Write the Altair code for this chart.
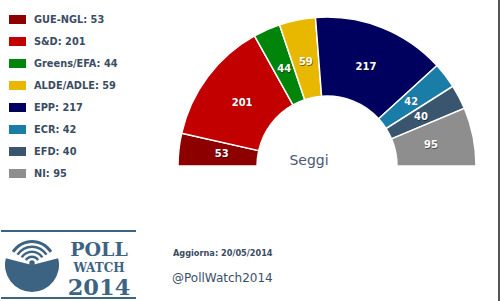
import math
import altair as alt
import pandas as pd

parties = ["GUE-NGL", "S&D", "Greens/EFA", "ALDE/ADLE", "EPP", "ECR", "EFD", "NI"]
seats = [53, 201, 44, 59, 217, 42, 40, 95]
colors = ["#8C0000", "#C20000", "#00840A", "#E8B800", "#00005E", "#1A7DA8", "#3A556E", "#8E8E8E"]

labels = [f"{p}: {s}" for p, s in zip(parties, seats)]
df = pd.DataFrame({"party": parties, "seats": seats, "label": labels, "idx": list(range(len(parties)))})

W, H = 500, 301
CX, CY = 326, 166
R_OUT, R_IN = 149, 70
LOGO = "#3D6382"
TXT = "#3A4C62"

theta = alt.Theta("seats:Q", stack=True, scale=alt.Scale(range=[-math.pi / 2, math.pi / 2]))
order = alt.Order("idx:Q", sort="ascending")

arcs = alt.Chart(df).mark_arc(stroke="white", strokeWidth=1.5).encode(
    theta=theta,
    order=order,
    x=alt.value(CX), y=alt.value(CY),
    radius=alt.value(R_OUT), radius2=alt.value(R_IN),
    color=alt.Color(
        "label:N",
        scale=alt.Scale(domain=labels, range=colors),
        legend=alt.Legend(
            orient="none", legendX=8, legendY=11, title=None,
            symbolType="M-1,-0.53H1V0.53H-1Z", symbolSize=289,
            symbolStrokeWidth=0, symbolOpacity=1,
            labelFont="DejaVu Sans", labelFontWeight="bold", labelFontSize=9.8,
            labelColor=TXT, labelOffset=8, rowPadding=8, labelLimit=200,
        ),
    ),
)

shadow = alt.Chart(df).mark_text(
    radius=106, font="DejaVu Sans", fontWeight="bold", fontSize=10, color="#000000",
    opacity=0.45, dx=0.7, dy=0.7,
).encode(theta=theta, order=order, x=alt.value(CX), y=alt.value(CY), text="seats:Q")

seg_labels = alt.Chart(df).mark_text(
    radius=106, font="DejaVu Sans", fontWeight="bold", fontSize=10, color="white",
).encode(theta=theta, order=order, x=alt.value(CX), y=alt.value(CY), text="seats:Q")

one = pd.DataFrame({"k": [0]})

seggi = alt.Chart(one).mark_text(
    text="Seggi", font="DejaVu Sans", fontSize=14, color="#4A5A72", align="center", baseline="alphabetic"
).encode(x=alt.value(308), y=alt.value(165))

aggiorna = alt.Chart(one).mark_text(
    text="Aggiorna: 20/05/2014", font="DejaVu Sans", fontWeight="bold", fontSize=8.2, color=TXT,
    align="left", baseline="middle"
).encode(x=alt.value(172), y=alt.value(254))

handle = alt.Chart(one).mark_text(
    text="@PollWatch2014", font="DejaVu Sans", fontSize=12, color="#3A5068",
    align="left", baseline="middle"
).encode(x=alt.value(171), y=alt.value(278))

right_bar = alt.Chart(one).mark_rect(color="#555555").encode(
    x=alt.value(497), x2=alt.value(500), y=alt.value(0), y2=alt.value(H)
)

# logo
logo_lines = alt.Chart(pd.DataFrame({"yy": [231, 298]})).mark_rule(color=LOGO, strokeWidth=2).encode(
    x=alt.value(0), x2=alt.value(135), y=alt.Y("yy:Q", scale=None)
)
bowl = alt.Chart(one).mark_arc(color=LOGO).encode(
    x=alt.value(31), y=alt.value(265), radius=alt.value(27),
    theta=alt.value(math.pi / 2 - 0.25), theta2=alt.value(3 * math.pi / 2 + 0.25),
)
wifi_df = pd.DataFrame({"r1": [6, 11, 16, 21], "r2": [8.5, 13.5, 18.5, 24]})
wifi = alt.Chart(wifi_df).mark_arc(color=LOGO).encode(
    x=alt.value(31), y=alt.value(264),
    radius=alt.Radius("r1:Q", scale=None), radius2=alt.Radius2("r2:Q"),
    theta=alt.value(-1.0), theta2=alt.value(1.0),
)
dot = alt.Chart(one).mark_circle(color=LOGO, opacity=1, size=30).encode(x=alt.value(31), y=alt.value(263))

poll = alt.Chart(one).mark_text(
    text="POLL", font="DejaVu Serif", fontWeight="bold", fontSize=19, color=LOGO, align="center", baseline="alphabetic"
).encode(x=alt.value(98), y=alt.value(256))
watch = alt.Chart(one).mark_text(
    text="WATCH", font="DejaVu Serif", fontWeight="bold", fontSize=12, color=LOGO, align="center", baseline="alphabetic"
).encode(x=alt.value(98), y=alt.value(272))
year = alt.Chart(one).mark_text(
    text="2014", font="DejaVu Serif", fontWeight="bold", fontSize=22.5, color=LOGO, align="center", baseline="alphabetic"
).encode(x=alt.value(98), y=alt.value(295))

chart = alt.layer(
    arcs, shadow, seg_labels, seggi, aggiorna, handle, right_bar,
    logo_lines, bowl, wifi, dot, poll, watch, year,
).properties(
    width=W, height=H, padding=0,
    autosize=alt.AutoSizeParams(type="fit", contains="padding"),
    background="white",
).configure_view(stroke=None)

chart.save("out.html", embed_options={"renderer": "svg", "actions": False})
